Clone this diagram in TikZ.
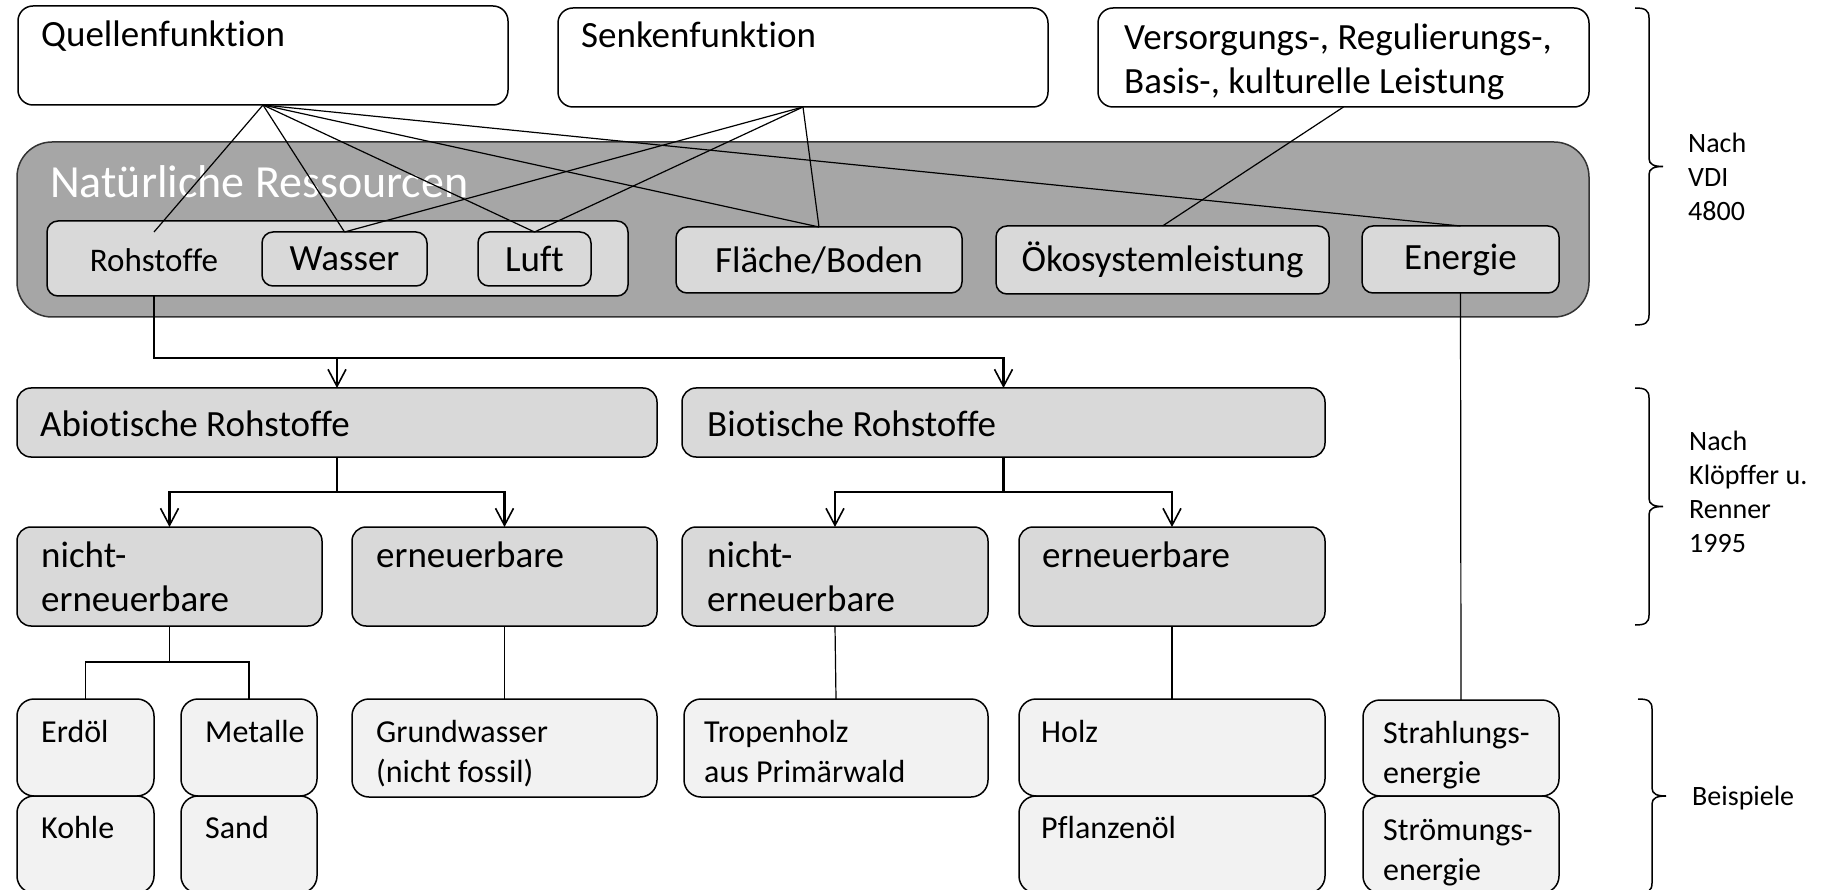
\documentclass[tikz,border=0pt]{standalone}
\usepackage{fontspec}
\setmainfont{Carlito}[Ligatures=NoCommon]
\usetikzlibrary{arrows.meta}
\definecolor{bigg}{HTML}{A6A6A6}
\definecolor{ing}{HTML}{D9D9D9}
\definecolor{lowg}{HTML}{F2F2F2}
\newcommand\fA{\fontsize{37}{44}\selectfont}
\newcommand\fB{\fontsize{32}{40}\selectfont}
\newcommand\fC{\fontsize{28}{34}\selectfont}
\newcommand\fR{\fontsize{33}{40}\selectfont}
\newcommand\fN{\fontsize{46}{55}\selectfont}
\newcommand\rb[7]{%
  \pgfmathsetmacro\rbw{#5-#3}\pgfmathsetmacro\rbh{#6-#4}%
  \pgfmathsetmacro\rbx{(#3+#5)/2}\pgfmathsetmacro\rby{(#4+#6)/2}%
  \node[#1, minimum width=\rbw pt, minimum height=\rbh pt] (#2) at (\rbx,\rby) {#7};}
\newcommand\mybrace[3]{%
  \pgfmathsetmacro\bm{(#2+#3)/2}%
  \draw[brl] (#1,#2) .. controls ({#1+10},#2) and ({#1+14},{#2+2}) .. ({#1+14},{#2+10})
    -- ({#1+14},{\bm-8}) .. controls ({#1+14},{\bm-2}) and ({#1+19},\bm) .. ({#1+28},\bm)
    .. controls ({#1+19},\bm) and ({#1+14},{\bm+2}) .. ({#1+14},{\bm+8})
    -- ({#1+14},{#3-10}) .. controls ({#1+14},{#3-2}) and ({#1+10},#3) .. (#1,#3);}
\tikzset{
  bx/.style={draw=black, line width=1.5pt, inner sep=0pt, outer sep=0pt, font=\fA},
  topbox/.style={bx, fill=white, rounded corners=15pt},
  bigbox/.style={bx, draw=black!80, fill=bigg, rounded corners=35pt},
  inbox/.style={bx, fill=ing, rounded corners=11pt},
  midbox/.style={bx, fill=ing, rounded corners=14pt},
  lowbox/.style={bx, fill=lowg, rounded corners=17pt},
  txt/.style={anchor=north west, align=left, inner sep=0pt},
  btxt/.style={anchor=base west, inner sep=0pt},
  thinc/.style={line width=1.2pt},
  thickc/.style={line width=2.6pt},
  tip/.style={-{Straight Barb[length=17pt,width=18pt,line width=1.6pt]}},
  brl/.style={line width=1.5pt}
}
\begin{document}
\begin{tikzpicture}[x=1pt, y=-1pt]
\useasboundingbox (0,0) rectangle (1831,890);
% top row
\rb{topbox}{q}{18}{6}{508}{105}{}
\rb{topbox}{s}{558}{8}{1048}{107}{}
\rb{topbox}{v}{1098}{8}{1589}{107}{}
\node[txt, font=\fA] (qt) at (41,15.2) {\strut Quellenfunktion};
\node[txt, font=\fA] (st) at (581,16.2) {\strut Senkenfunktion};
\node[txt, font=\fA] (vt) at (1124,18.2) {\strut Versorgungs-, Regulierungs-,\\\strut Basis-, kulturelle Leistung};
% natural resources
\rb{bigbox}{big}{17}{142}{1589}{317}{}
\node[btxt, font=\fN, text=white] (nat) at (50,198) {Natürliche Ressourcen};
\rb{inbox}{rc}{47}{221}{628}{296}{}
\node[inner sep=0pt, font=\fR] (rtxt) at (154,260) {Rohstoffe};
\coordinate (rtop) at (154,232);
\rb{inbox}{wasser}{262}{232}{427}{286}{Wasser}
\rb{inbox}{luft}{478}{232}{591}{286}{Luft}
\rb{inbox}{flaeche}{676}{227}{962}{293}{Fläche/Boden}
\rb{inbox}{oeko}{996}{226}{1329}{294}{Ökosystemleistung}
\rb{inbox}{energie}{1362}{226}{1559}{293}{Energie}
% second row
\rb{midbox}{abio}{17}{388}{657}{457}{}
\rb{midbox}{bio}{682}{388}{1325}{457}{}
\node[btxt, font=\fA] (abt) at (40,436) {Abiotische Rohstoffe};
\node[btxt, font=\fA] (bit) at (707,436) {Biotische Rohstoffe};
% third row
\rb{midbox}{nl}{17}{527}{322}{626}{}
\rb{midbox}{el}{352}{527}{657}{626}{}
\rb{midbox}{nr}{682}{527}{988}{626}{}
\rb{midbox}{er}{1019}{527}{1325}{626}{}
\node[txt, font=\fA] (nlt) at (41,536.2) {\strut nicht-\\\strut erneuerbare};
\node[txt, font=\fA] (elt) at (376,536.2) {\strut erneuerbare};
\node[txt, font=\fA] (nrt) at (707,536.2) {\strut nicht-\\\strut erneuerbare};
\node[txt, font=\fA] (ert) at (1042,536.2) {\strut erneuerbare};
% fourth row
\rb{lowbox}{erd}{17}{699}{154}{796}{}
\rb{lowbox}{kohle}{17}{796}{154}{893}{}
\rb{lowbox}{met}{181}{699}{317}{796}{}
\rb{lowbox}{sand}{181}{796}{317}{893}{}
\rb{lowbox}{gw}{352}{699}{657}{797}{}
\rb{lowbox}{trop}{684}{699}{988}{797}{}
\rb{lowbox}{holz}{1019}{699}{1325}{796}{}
\rb{lowbox}{pfl}{1019}{796}{1325}{893}{}
\rb{lowbox}{str1}{1363}{700}{1559}{796}{}
\rb{lowbox}{str2}{1363}{796}{1559}{893}{}
\node[txt, font=\fB] (erdt) at (41,714) {\strut Erdöl};
\node[txt, font=\fB] (koht) at (41,810) {\strut Kohle};
\node[txt, font=\fB] (mett) at (205,714) {\strut Metalle};
\node[txt, font=\fB] (sandt) at (205,810) {\strut Sand};
\node[txt, font=\fB] (gwt) at (376,714) {\strut Grundwasser\\\strut (nicht fossil)};
\node[txt, font=\fB] (tropt) at (704,714) {\strut Tropenholz\\\strut aus Primärwald};
\node[txt, font=\fB] (holzt) at (1041,714) {\strut Holz};
\node[txt, font=\fB] (pflt) at (1041,810) {\strut Pflanzenöl};
\node[txt, font=\fB] (s1t) at (1383,715) {\strut Strahlungs-\\\strut energie};
\node[txt, font=\fB] (s2t) at (1383,812) {\strut Strömungs-\\\strut energie};
% thin connectors top
\draw[thinc] (q.south) -- (rtop);
\draw[thinc] (q.south) -- (wasser.north);
\draw[thinc] (q.south) -- (luft.north);
\draw[thinc] (q.south) -- (flaeche.north);
\draw[thinc] (q.south) -- (energie.north);
\draw[thinc] (s.south) -- (wasser.north);
\draw[thinc] (s.south) -- (luft.north);
\draw[thinc] (s.south) -- (flaeche.north);
\draw[thinc] (v.south) -- (oeko.north);
% thick connectors
\coordinate (h1) at (0,358);
\coordinate (h2) at (0,492);
\coordinate (h3) at (0,662);
\draw[thickc,tip] (rtxt |- rc.south) |- (abio.north |- h1) -- (abio.north);
\draw[thickc,tip] (abio.north |- h1) -| (bio.north);
\draw[thickc] (abio.south) -- (abio.south |- h2);
\draw[thickc,tip] (abio.south |- h2) -| (nl.north);
\draw[thickc,tip] (abio.south |- h2) -| (el.north);
\draw[thickc] (bio.south) -- (bio.south |- h2);
\draw[thickc,tip] (bio.south |- h2) -| (nr.north);
\draw[thickc,tip] (bio.south |- h2) -| (er.north);
% thin connectors bottom
\draw[thinc] (nl.south) -- (nl.south |- h3);
\draw[thinc] (erd.north) |- (nl.south |- h3) -| (met.north);
\draw[thinc] (el.south) -- (gw.north);
\draw[thinc] (nr.south) -- (trop.north);
\draw[thinc] (er.south) -- (holz.north);
\draw[thinc] (energie.south) -- (str1.north);
% braces and labels
\mybrace{1635}{8}{325}
\mybrace{1635}{388}{625}
\mybrace{1638}{699}{893}
\node[txt, font=\fC] (vdi) at (1688,128.2) {\strut Nach\\\strut VDI\\\strut 4800};
\node[txt, font=\fC] (kl) at (1689,426.2) {\strut Nach\\\strut Klöpffer u.\\\strut Renner\\\strut 1995};
\node[btxt, font=\fC] (beisp) at (1692,805) {Beispiele};
\end{tikzpicture}
\end{document}
